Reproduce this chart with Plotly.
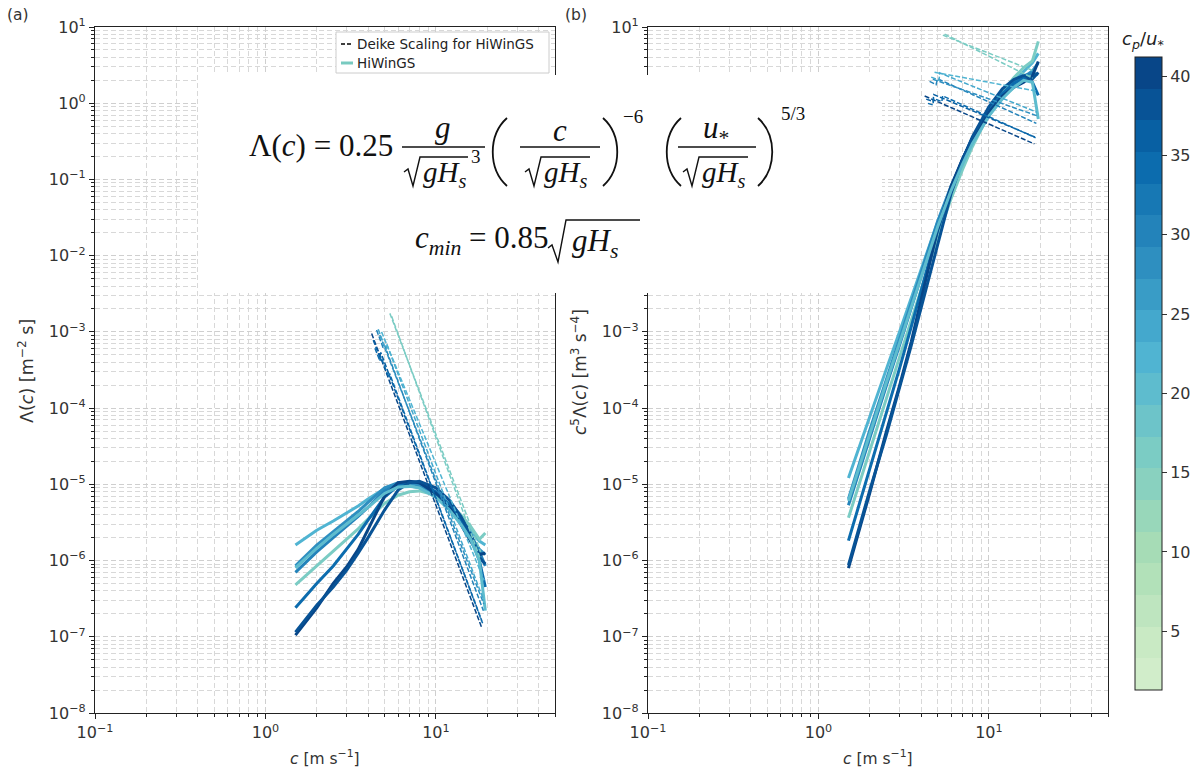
import numpy as np
import plotly.graph_objects as go

W, H = 1192, 773

# ---------------- data ----------------
c_grid = [1.5, 2, 2.5, 3, 3.5, 4, 5, 6, 7, 8, 10, 12, 14, 16, 18, 19.5]

lam_run_a = [1.6e-6, 2.5e-6, 3.3e-6, 4.2e-6, 5.2e-6, 6.4e-6, 8.8e-6, 9.8e-6, 9.6e-6, 9.0e-6, 6.9e-6, 5.0e-6, 3.6e-6, 2.5e-6, 1.8e-6, 1.6e-6]
lam_run_b = [8.5e-7, 1.6e-6, 2.4e-6, 3.3e-6, 4.4e-6, 5.8e-6, 9.0e-6, 1.05e-5, 1.05e-5, 9.6e-6, 7.0e-6, 4.8e-6, 3.2e-6, 2.1e-6, 1.4e-6, 1.2e-6]
lam_run_c = [7.0e-7, 1.3e-6, 2.0e-6, 2.8e-6, 3.8e-6, 5.0e-6, 8.2e-6, 1.0e-5, 1.08e-5, 1.05e-5, 7.8e-6, 5.2e-6, 3.4e-6, 2.2e-6, 1.3e-6, 8.5e-7]
lam_run_d = [4.8e-7, 8.5e-7, 1.3e-6, 1.9e-6, 2.6e-6, 3.5e-6, 5.6e-6, 7.2e-6, 8.0e-6, 8.2e-6, 7.2e-6, 5.6e-6, 4.0e-6, 2.8e-6, 1.9e-6, 2.3e-6]
lam_run_e = [2.4e-7, 5.0e-7, 8.5e-7, 1.4e-6, 2.2e-6, 3.4e-6, 6.8e-6, 9.6e-6, 1.08e-5, 1.05e-5, 8.0e-6, 5.4e-6, 3.4e-6, 2.0e-6, 1.0e-6, 4.5e-7]
lam_run_f = [1.05e-7, 2.4e-7, 5.0e-7, 8.3e-7, 1.4e-6, 2.6e-6, 7.0e-6, 1.05e-5, 1.1e-5, 1.05e-5, 7.6e-6, 5.0e-6, 3.0e-6, 1.8e-6, 1.2e-6, 1.25e-6]
lam_run_g = [1.15e-7, 2.6e-7, 4.5e-7, 7.5e-7, 1.25e-6, 2.0e-6, 4.6e-6, 8.4e-6, 1.05e-5, 1.1e-5, 9.0e-6, 6.2e-6, 3.8e-6, 2.2e-6, 1.1e-6, 9.0e-7]
lam_run_h = [8.0e-7, 1.45e-6, 2.2e-6, 3.0e-6, 3.9e-6, 5.0e-6, 7.6e-6, 9.2e-6, 9.4e-6, 9.0e-6, 6.8e-6, 4.6e-6, 3.0e-6, 1.9e-6, 1.0e-6, 2.2e-7]
solid_runs = [lam_run_a, lam_run_b, lam_run_c, lam_run_d, lam_run_e, lam_run_f, lam_run_g, lam_run_h]
solid_cpu = [22, 28, 31, 17, 35, 40, 38, 20]

# Deike scaling lines for each run (c, Lambda)
deike_c_1 = [4.20, 18.5]
deike_lam_1 = [9.5e-4, 1.35e-7]
deike_c_2 = [4.29, 4.70, 4.75, 18.6]
deike_lam_2 = [7.8e-4, 4.58e-4, 5.38e-4, 1.62e-7]
deike_c_3 = [4.39, 4.70, 4.75, 5.30, 5.35, 18.8]
deike_lam_3 = [6.1e-4, 4.14e-4, 4.76e-4, 2.51e-4, 2.85e-4, 1.5e-7]
deike_c_4 = [4.49, 4.90, 5.00, 19.0]
deike_lam_4 = [1.06e-3, 6.2e-4, 6.7e-4, 2.2e-7]
deike_c_5 = [4.69, 19.1]
deike_lam_5 = [9.1e-4, 2.7e-7]
deike_c_6 = [4.59, 5.10, 5.15, 19.1]
deike_lam_6 = [1.08e-3, 5.8e-4, 6.9e-4, 3.0e-7]
deike_c_7 = [4.80, 19.2]
deike_lam_7 = [1.0e-3, 5.5e-7]
deike_c_8 = [5.37, 18.3]
deike_lam_8 = [1.75e-3, 1.3e-6]
deike_c_9 = [5.50, 18.1]
deike_lam_9 = [1.6e-3, 1.1e-6]
deike_c = [deike_c_1, deike_c_2, deike_c_3, deike_c_4, deike_c_5, deike_c_6, deike_c_7, deike_c_8, deike_c_9]
deike_lam = [deike_lam_1, deike_lam_2, deike_lam_3, deike_lam_4, deike_lam_5, deike_lam_6, deike_lam_7,
             deike_lam_8, deike_lam_9]
deike_cpu = [40, 37, 34, 31, 28, 24, 22, 17, 16]

x_tick_vals = [0.1, 1, 10]
x_tick_text = ["10<sup>−1</sup>", "10<sup>0</sup>", "10<sup>1</sup>"]
y_tick_vals = [1e-8, 1e-7, 1e-6, 1e-5, 1e-4, 1e-3, 1e-2, 1e-1, 1, 10]
y_tick_text = ["10<sup>−8</sup>", "10<sup>−7</sup>", "10<sup>−6</sup>", "10<sup>−5</sup>", "10<sup>−4</sup>",
               "10<sup>−3</sup>", "10<sup>−2</sup>", "10<sup>−1</sup>", "10<sup>0</sup>", "10<sup>1</sup>"]
# in panel (b) the labels 10^-2 .. 10^0 sit under the formula box
y2_tick_text = [t if v not in (1e-2, 1e-1, 1) else "" for v, t in zip(y_tick_vals, y_tick_text)]
cbar_ticks = [5, 10, 15, 20, 25, 30, 35, 40]
CPU_MIN, CPU_MAX, N_BINS = 1.3, 41.2, 20

# ---------------- colours ----------------
GNBU = [(0.0, (247, 252, 240)), (0.125, (224, 243, 219)), (0.25, (204, 235, 197)),
        (0.375, (168, 221, 181)), (0.5, (123, 204, 196)), (0.625, (78, 179, 211)),
        (0.75, (43, 140, 190)), (0.875, (8, 104, 172)), (1.0, (8, 64, 129))]


def gnbu(t):
    for (t0, c0), (t1, c1) in zip(GNBU[:-1], GNBU[1:]):
        if t <= t1:
            f = (t - t0) / (t1 - t0)
            return tuple(int(round(a + (b - a) * f)) for a, b in zip(c0, c1))
    return GNBU[-1][1]


T0 = 0.2
bin_cols = ["rgb(%d,%d,%d)" % gnbu(T0 + (1 - T0) * (i + 0.5) / N_BINS) for i in range(N_BINS)]


def cpu_color(v):
    i = int((v - CPU_MIN) / (CPU_MAX - CPU_MIN) * N_BINS)
    return bin_cols[max(0, min(N_BINS - 1, i))]


cscale = []
for i, col in enumerate(bin_cols):
    cscale.append([i / N_BINS, col])
    cscale.append([(i + 1) / N_BINS, col])


def PX(x):
    return x / W


def PY(y):
    return 1 - y / H


fig = go.Figure()
c_arr = np.array(c_grid)

# solid HiWinGS curves
for lam, v in zip(solid_runs, solid_cpu):
    lam = np.array(lam)
    col = cpu_color(v)
    fig.add_trace(go.Scatter(x=c_arr, y=lam, mode="lines", line=dict(color=col, width=3),
                             showlegend=False, xaxis="x", yaxis="y", hoverinfo="skip"))
    fig.add_trace(go.Scatter(x=c_arr, y=lam * c_arr ** 5, mode="lines", line=dict(color=col, width=3),
                             showlegend=False, xaxis="x2", yaxis="y2", hoverinfo="skip"))

# dashed Deike lines
for cc, ll, v in zip(deike_c, deike_lam, deike_cpu):
    col = cpu_color(v)
    cc = np.array(cc)
    ll = np.array(ll)
    fig.add_trace(go.Scatter(x=cc, y=ll, mode="lines", line=dict(color=col, width=1.5, dash="5px,2px"),
                             showlegend=False, xaxis="x", yaxis="y", hoverinfo="skip"))
    fig.add_trace(go.Scatter(x=cc, y=ll * cc ** 5, mode="lines", line=dict(color=col, width=1.5, dash="5px,2px"),
                             showlegend=False, xaxis="x2", yaxis="y2", hoverinfo="skip"))

# colorbar
cbar = dict(thickness=27, thicknessmode="pixels",
            len=633 / H, lenmode="fraction",
            x=PX(1135), xanchor="left", y=PY(57), yanchor="top",
            xpad=0, ypad=0, outlinecolor="#222", outlinewidth=1,
            tickvals=cbar_ticks, ticks="outside", ticklen=5,
            tickcolor="#333",
            tickfont=dict(family="DejaVu Sans", size=16, color="#333"))
fig.add_trace(go.Scatter(x=[None], y=[None], mode="markers", showlegend=False, xaxis="x2", yaxis="y2",
                         marker=dict(color=[CPU_MIN], cmin=CPU_MIN, cmax=CPU_MAX, colorscale=cscale,
                                     showscale=True, colorbar=cbar)))

minor_x = [m * 10.0 ** e for e in (-1, 0, 1) for m in range(2, 10) if m * 10.0 ** e <= 50]
minor_y = [m * 10.0 ** e for e in range(-8, 1) for m in range(2, 10)]

tickfont = dict(family="DejaVu Sans", size=16, color="#333")


def axis(dom, is_x, ytext=None):
    d = dict(type="log", domain=dom, showline=True, linecolor="#222", linewidth=1.2, mirror=True,
             ticks="outside", ticklen=5, tickwidth=1, tickcolor="#222", automargin=False,
             showgrid=True, gridcolor="#cfcfcf", griddash="5px,3px", gridwidth=1, zeroline=False,
             tickfont=tickfont, tickmode="array")
    if is_x:
        d.update(range=[-1, np.log10(50)], tickvals=x_tick_vals, ticktext=x_tick_text,
                 minor=dict(tickmode="array", tickvals=minor_x, ticks="outside", ticklen=3, tickcolor="#222",
                            showgrid=True, gridcolor="#d8d8d8", griddash="5px,3px", gridwidth=1))
    else:
        d.update(range=[-8, 1], tickvals=y_tick_vals, ticktext=ytext,
                 minor=dict(tickmode="array", tickvals=minor_y, ticks="outside", ticklen=3, tickcolor="#222",
                            showgrid=True, gridcolor="#d8d8d8", griddash="5px,3px", gridwidth=1))
    return d


ydom = [PY(713), PY(27)]
fig.update_layout(
    width=W, height=H, autosize=False,
    margin=dict(l=0, r=0, t=0, b=0, pad=0, autoexpand=False),
    paper_bgcolor="white", plot_bgcolor="white",
    xaxis=axis([PX(95), PX(555)], True), yaxis=dict(axis(ydom, False, y_tick_text), anchor="x"),
    xaxis2=dict(axis([PX(648), PX(1108)], True), anchor="y2"),
    yaxis2=dict(axis(ydom, False, y2_tick_text), anchor="x2"),
    showlegend=False,
)

# ---------------- annotations: labels ----------------
ann = []
shapes = []


def txt(x, y, s, size=15, xa="center", ya="middle", family="DejaVu Sans", color="#333", angle=0):
    ann.append(dict(x=PX(x), y=PY(y), xref="paper", yref="paper", text=s, showarrow=False,
                    xanchor=xa, yanchor=ya, textangle=angle,
                    font=dict(family=family, size=size, color=color)))


txt(18, 15, "(a)", 15.5)
txt(576, 15, "(b)", 15.5)
txt(325, 757, "<i>c</i> [m s<sup>−1</sup>]", 15.5)
txt(878, 757, "<i>c</i> [m s<sup>−1</sup>]", 15.5)
txt(26, 371, "Λ(<i>c</i>) [m<sup>−2</sup> s]", 17.5, angle=-90)
txt(579, 372, "<i>c</i><sup>5</sup>Λ(<i>c</i>) [m<sup>3</sup> s<sup>−4</sup>]", 17, angle=-90)
txt(1143, 40, "<i>c<sub>p</sub></i>/<i>u</i><sub>*</sub>", 18, color="#222")

# ---------------- legend (box, sample lines, labels) ----------------
legend_labels = ["Deike Scaling for HiWinGS", "HiWinGS"]
shapes.append(dict(type="rect", xref="paper", yref="paper", x0=PX(336), x1=PX(549), y0=PY(73), y1=PY(32),
                   fillcolor="white", line=dict(color="#cccccc", width=1), layer="above"))
shapes.append(dict(type="line", xref="paper", yref="paper", x0=PX(341), x1=PX(353), y0=PY(44), y1=PY(44),
                   line=dict(color="black", width=1.5, dash="4px,2px"), layer="above"))
shapes.append(dict(type="line", xref="paper", yref="paper", x0=PX(341), x1=PX(353), y0=PY(63), y1=PY(63),
                   line=dict(color="rgb(120,202,192)", width=3), layer="above"))
txt(355, 44, legend_labels[0], 13.5, xa="left", color="#222")
txt(355, 63, legend_labels[1], 13.5, xa="left", color="#222")

# ---------------- formula box ----------------
shapes.append(dict(type="rect", xref="paper", yref="paper", x0=PX(198), x1=PX(882), y0=PY(75), y1=PY(293),
                   fillcolor="white", line=dict(width=0), layer="above"))

SERIF = "Liberation Serif"
FS = 31
INK = "#111"


def ftxt(x, y, s, size=FS, xa="center"):
    txt(x, y, s, size, xa=xa, family=SERIF, color=INK)


def path(pts, width=1.6):
    p = "M " + " L ".join("%f,%f" % (PX(a), PY(b)) for a, b in pts)
    shapes.append(dict(type="path", xref="paper", yref="paper", path=p,
                       line=dict(color=INK, width=width), layer="above"))


def curve(x0, y0, cx, x1, y1, width=1.8):
    p = "M %f,%f C %f,%f %f,%f %f,%f" % (PX(x0), PY(y0), PX(cx), PY(y0 + (y1 - y0) * 0.25),
                                         PX(cx), PY(y0 + (y1 - y0) * 0.75), PX(x1), PY(y1))
    shapes.append(dict(type="path", xref="paper", yref="paper", path=p,
                       line=dict(color=INK, width=width), layer="above"))


def hline(x0, x1, y, width=1.6):
    path([(x0, y), (x1, y)], width=width)


def radical_den(x, end, ytop=157, ybot=186, yc=174):
    path([(x, 172), (x + 4, 169), (x + 9, ybot), (x + 16, ytop), (end, ytop)], width=1.4)
    ftxt(x + 17, yc, "<i>gH</i><sub><i>s</i></sub>", FS - 2, xa="left")


ftxt(247, 145, "Λ(<i>c</i>) = 0.25", FS, xa="left")
ftxt(443, 128, "<i>g</i>", FS)
hline(402, 485, 147)
radical_den(404, end=468)
ftxt(469, 156, "3", 19, xa="left")
curve(507, 118, 488, 507, 186)
ftxt(560, 130, "<i>c</i>", FS)
hline(520, 600, 147)
radical_den(525, end=590)
curve(603, 118, 622, 603, 186)
ftxt(621, 116, "−6", 19, xa="left")
curve(681, 118, 662, 681, 186)
ftxt(716, 130, "<i>u</i><sub>*</sub>", FS)
hline(678, 756, 147)
radical_den(683, end=748)
curve(758, 118, 777, 758, 186)
ftxt(779, 114, "5/3", 19, xa="left")
ftxt(413, 240, "<i>c</i><sub><i>min</i></sub> = 0.85", FS, xa="left")
path([(548, 248), (552, 245), (558, 262), (566, 220), (640, 220)], width=1.4)
ftxt(570, 243, "<i>gH</i><sub><i>s</i></sub>", FS, xa="left")

fig.update_layout(annotations=ann, shapes=shapes)

fig.write_html("out.html", config={"displayModeBar": False},
               post_script="document.body.style.margin='0px';")
